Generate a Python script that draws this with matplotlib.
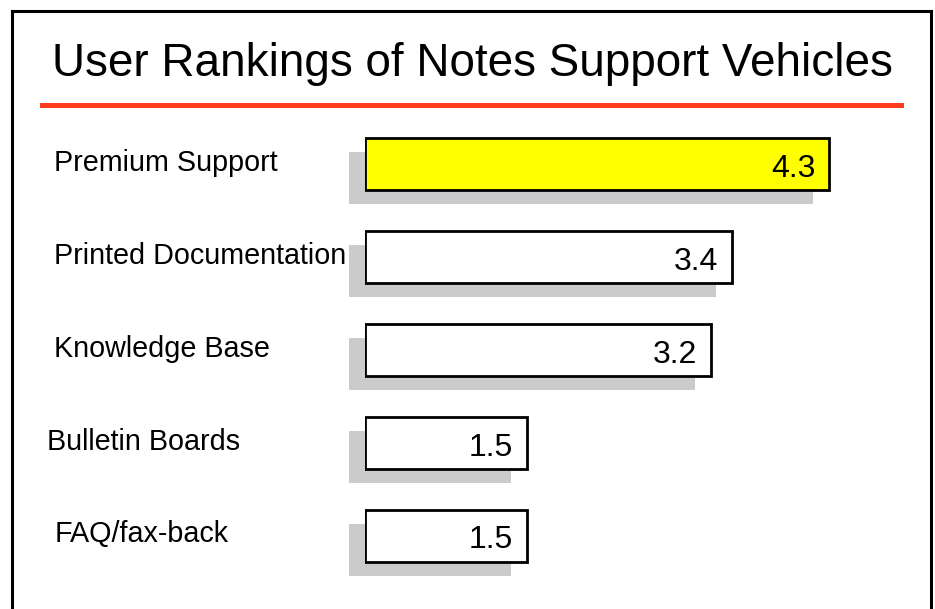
import numpy as np
import matplotlib
matplotlib.use("Agg")
import matplotlib.pyplot as plt
from matplotlib.lines import Line2D
from matplotlib.patches import Rectangle
from matplotlib.transforms import ScaledTranslation

plt.rcParams['font.family'] = ['Liberation Sans', 'DejaVu Sans']

title = "User Rankings of Notes Support Vehicles"
categories = ["Premium Support", "Printed Documentation", "Knowledge Base",
              "Bulletin Boards", "FAQ/fax-back"]
scores = [4.3, 3.4, 3.2, 1.5, 1.5]
value_labels = ["4.3", "3.4", "3.2", "1.5", "1.5"]
bar_colors = ["#ffff00", "white", "white", "white", "white"]
label_x = [54, 54, 54, 47, 55]   # figure pixels

W, H = 935, 609
fig = plt.figure(figsize=(W / 100, H / 100), dpi=100)

def px(x0, y0, w, h):
    # pixel box (top-left origin) -> figure fraction
    return [x0 / W, 1 - (y0 + h) / H, w / W, h / H]

# frame around the slide
frame_kw = dict(color="black", lw=2.2, solid_capstyle="projecting")
fig.add_artist(Line2D([12 / W, 12 / W], [1 - 11 / H, 0], transform=fig.transFigure, **frame_kw))
fig.add_artist(Line2D([12 / W, 931 / W], [1 - 11 / H, 1 - 11 / H], transform=fig.transFigure, **frame_kw))
fig.add_artist(Line2D([931 / W, 931 / W], [1 - 11 / H, 0], transform=fig.transFigure, **frame_kw))

# title and red rule
fig.text(472 / W, 1 - 76 / H, title, ha="center", va="baseline", fontsize=33)
fig.add_artist(Rectangle((40 / W, 1 - 108 / H), 864 / W, 5 / H,
                         transform=fig.transFigure, color="#ff3c1e", lw=0))

ax = fig.add_axes(px(365, 118, 540, 464))
ax.set_xlim(0, 5.0)
ax.set_ylim(len(categories) - 0.5, -0.5)
ax.axis("off")

y = np.arange(len(categories))
bar_h = 0.56

shadow = ax.transData + ScaledTranslation(-16 / 100, -14 / 100, fig.dpi_scale_trans)
shadows = ax.barh(y, scores, height=bar_h, color="#cbcbcb", lw=0, transform=shadow, zorder=1)
for p in shadows:
    p.set_clip_on(False)
ax.barh(y, scores, height=bar_h, color=bar_colors, edgecolor="black", lw=2, zorder=2)

for i, (s, lab) in enumerate(zip(scores, value_labels)):
    ax.annotate(lab, xy=(s, i), xytext=(-10, -1), textcoords="offset points",
                ha="right", va="center_baseline", fontsize=23, zorder=3)

for i, cat in enumerate(categories):
    ax.annotate(cat, xy=(label_x[i], i), xycoords=("figure pixels", "data"),
                xytext=(0, 3), textcoords="offset points",
                ha="left", va="center_baseline", fontsize=20.7, annotation_clip=False)

fig.savefig("out.png", dpi=100)
